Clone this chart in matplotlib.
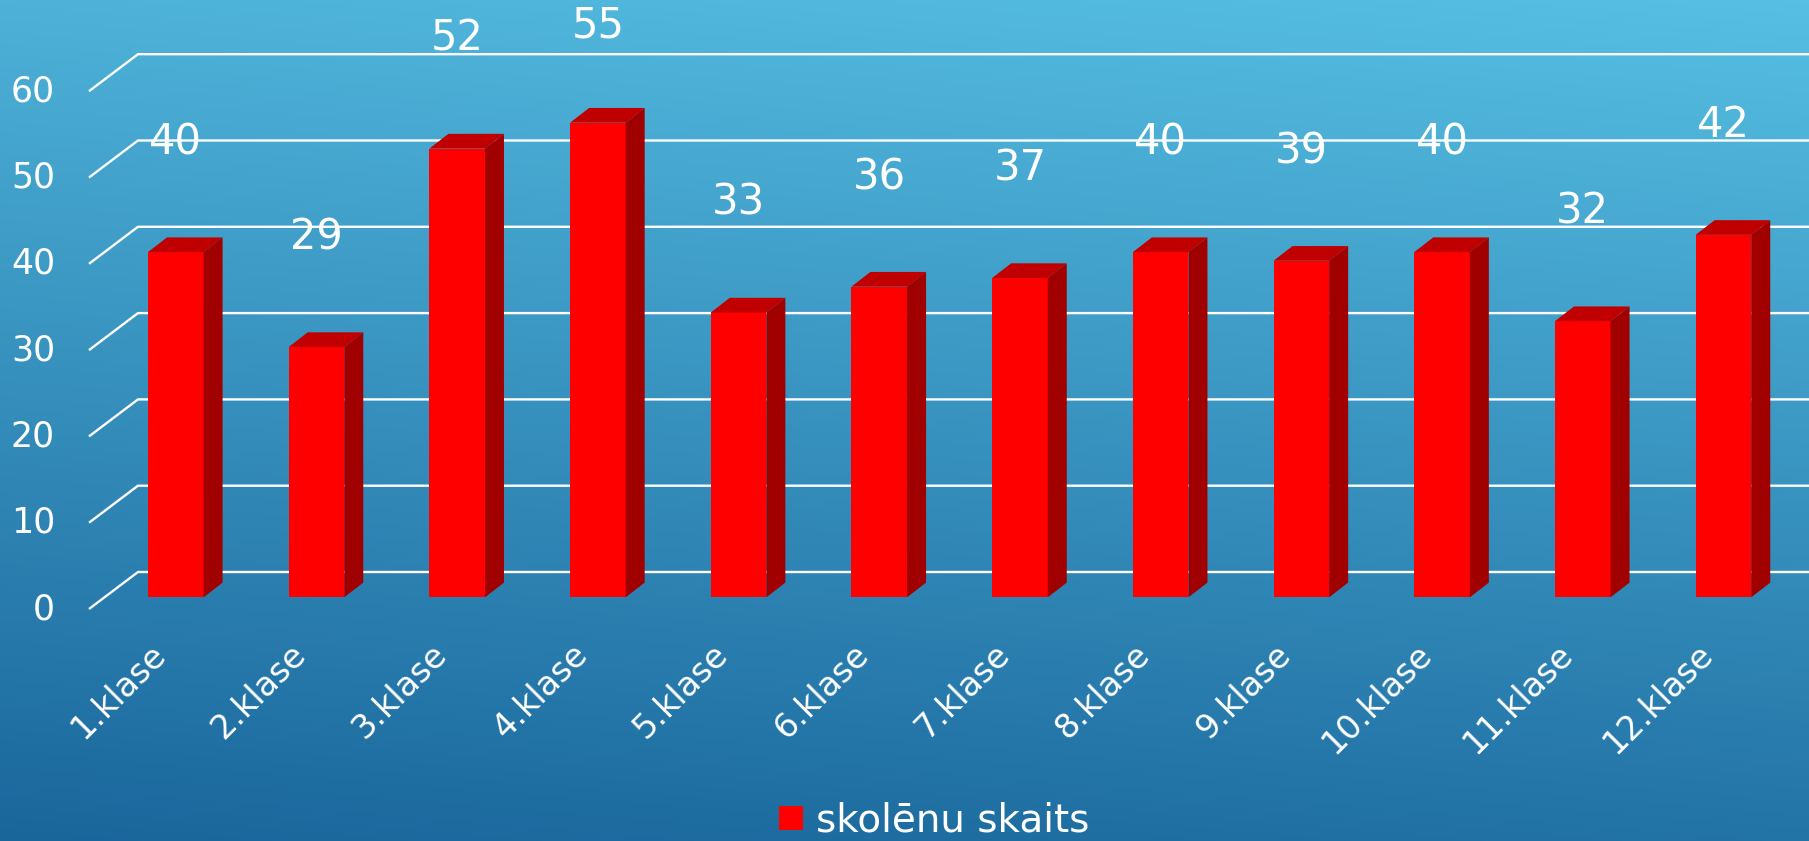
import numpy as np
import matplotlib.pyplot as plt
from matplotlib.patches import Polygon

categories = ['1.klase', '2.klase', '3.klase', '4.klase', '5.klase', '6.klase',
              '7.klase', '8.klase', '9.klase', '10.klase', '11.klase', '12.klase']
values = [40, 29, 52, 55, 33, 36, 37, 40, 39, 40, 32, 42]
y_ticks = [0, 10, 20, 30, 40, 50, 60]
series_name = 'skolēnu skaits'

plt.rcParams['font.family'] = ['DejaVu Sans']

W, H = 1809, 841
fig = plt.figure(figsize=(W / 100, H / 100), dpi=100)

# blue gradient background, lighter towards the top right
bg = fig.add_axes([0, 0, 1, 1])
yy, xx = np.mgrid[0:1:300j, 0:1:300j]
t = (1 - yy) * 0.85 + xx * 0.15
top = np.array([0.34, 0.75, 0.89])
bottom = np.array([0.10, 0.40, 0.61])
img = bottom + t[..., None] * (top - bottom)
bg.imshow(img, aspect='auto', extent=[0, 1, 0, 1], origin='upper')
bg.axis('off')

ax = fig.add_axes([0, 0, 1, 1])
ymax = 69.21
ax.set_xlim(-1.2495, 11.608)
ax.set_ylim(-28.24, ymax)
ax.axis('off')
ax.patch.set_alpha(0)

# fake 3d geometry (in data units)
bar_w = 0.395
side_dx, side_dy = 0.135, 1.70
back_x, back_dy = -0.269, 2.93
front_x, front_dy = -0.617, -1.36

for v in y_ticks:
    ax.plot([front_x, back_x, 11.608], [v + front_dy, v + back_dy, v + back_dy],
            color='white', lw=1.7, zorder=1, solid_capstyle='butt')
    ax.text(-0.859, v + front_dy, str(v), ha='right', va='center',
            fontsize=25, color='white')

x = np.arange(len(categories))
bars = ax.bar(x, values, width=bar_w, color='#FF0000', zorder=3, label=series_name)

for xi, v in zip(x, values):
    l, r = xi - bar_w / 2, xi + bar_w / 2
    top_face = Polygon([(l, v), (r, v), (r + side_dx, v + side_dy), (l + side_dx, v + side_dy)],
                       closed=True, color='#C00000', zorder=3, lw=0)
    side_face = Polygon([(r, 0), (r + side_dx, side_dy), (r + side_dx, v + side_dy), (r, v)],
                        closed=True, color='#A00000', zorder=3, lw=0)
    ax.add_patch(top_face)
    ax.add_patch(side_face)
    # keep the value label inside the picture
    ly = min(v + 12.7, ymax - 2.9)
    ax.text(xi, ly, str(v), ha='center', va='center', fontsize=30, color='white', zorder=4)

for xi, c in zip(x, categories):
    ax.text(xi - 0.11, -6.0, c, rotation=45, rotation_mode='anchor',
            ha='right', va='center', fontsize=24, color='white')

ax.legend(handles=[bars], labels=[series_name], loc='lower center',
          bbox_to_anchor=(0.5166, -0.04), frameon=False, fontsize=28,
          handlelength=0.6, handleheight=0.6, handletextpad=0.35, labelcolor='white')

fig.savefig('out.png', dpi=100)
